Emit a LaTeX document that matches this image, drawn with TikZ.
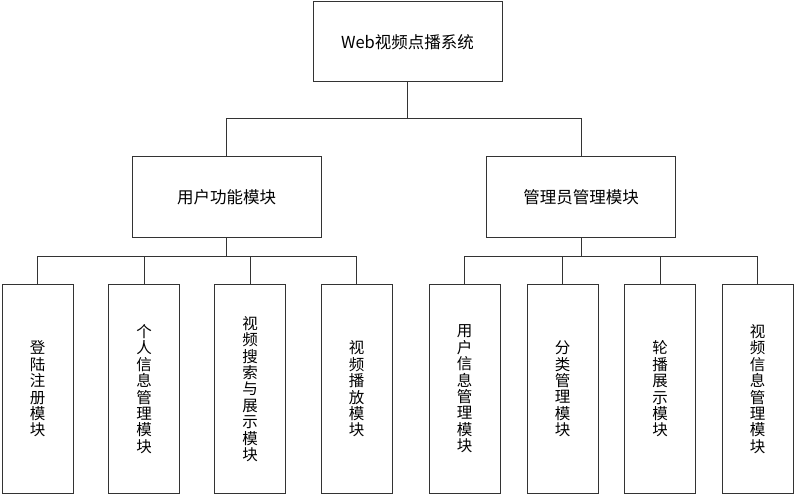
\documentclass[tikz,border=0pt]{standalone}
\usepackage{fontspec}
\setmainfont{Noto Sans CJK SC}
\usetikzlibrary{positioning}
\tikzset{
  sysbox/.style={
    draw=black!80,
    fill=white,
    line width=1pt,
    minimum width=189pt,
    minimum height=80pt,
    font=\fontsize{16.5}{18}\selectfont,
    inner sep=0pt
  },
  leafbox/.style={
    sysbox,
    minimum width=71pt,
    minimum height=208pt,
    align=center,
    font=\fontsize{15.5}{16.4}\selectfont
  },
  treeline/.style={line width=1pt,draw=black!80}
}

\begin{document}
\begin{tikzpicture}[x=1pt,y=-1pt]
    \useasboundingbox (0,0) rectangle (795,494);
    \node[sysbox] (sys) at (407.5,42) {Web视频点播系统};
    \node[sysbox,minimum height=81pt] (user) at (226.5,197.5) {用户功能模块};
    \node[sysbox,minimum height=81pt] (admin) at (581,197.5) {管理员管理模块};
    % 用户功能
    \node[leafbox] (login) at (37.5,389) {登\\陆\\注\\册\\模\\块};
    \node[leafbox] (info) at (144,389) {个\\人\\信\\息\\管\\理\\模\\块};
    \node[leafbox] (search) at (250,389) {视\\频\\搜\\索\\与\\展\\示\\模\\块};
    \node[leafbox] (play) at (356.5,389) {视\\频\\播\\放\\模\\块};
    % 管理员管理
    \node[leafbox] (userinfo) at (464.5,389) {用\\户\\信\\息\\管\\理\\模\\块};
    \node[leafbox] (category) at (562.5,389) {分\\类\\管\\理\\模\\块};
    \node[leafbox] (carousel) at (660,389) {轮\\播\\展\\示\\模\\块};
    \node[leafbox] (videoinfo) at (757.5,389) {视\\频\\信\\息\\管\\理\\模\\块};
    \draw[treeline] (sys.south) -- ++(0,36) -| (user.north);
    \draw[treeline] (sys.south) -- ++(0,36) -| (admin.north);
    \foreach \leaf in {login,info,search,play}
      \draw[treeline] (user.south) -- ++(0,18) -| (\leaf.north);
    \foreach \leaf in {userinfo,category,carousel,videoinfo}
      \draw[treeline] (admin.south) -- ++(0,18) -| (\leaf.north);
\end{tikzpicture}
\end{document}
